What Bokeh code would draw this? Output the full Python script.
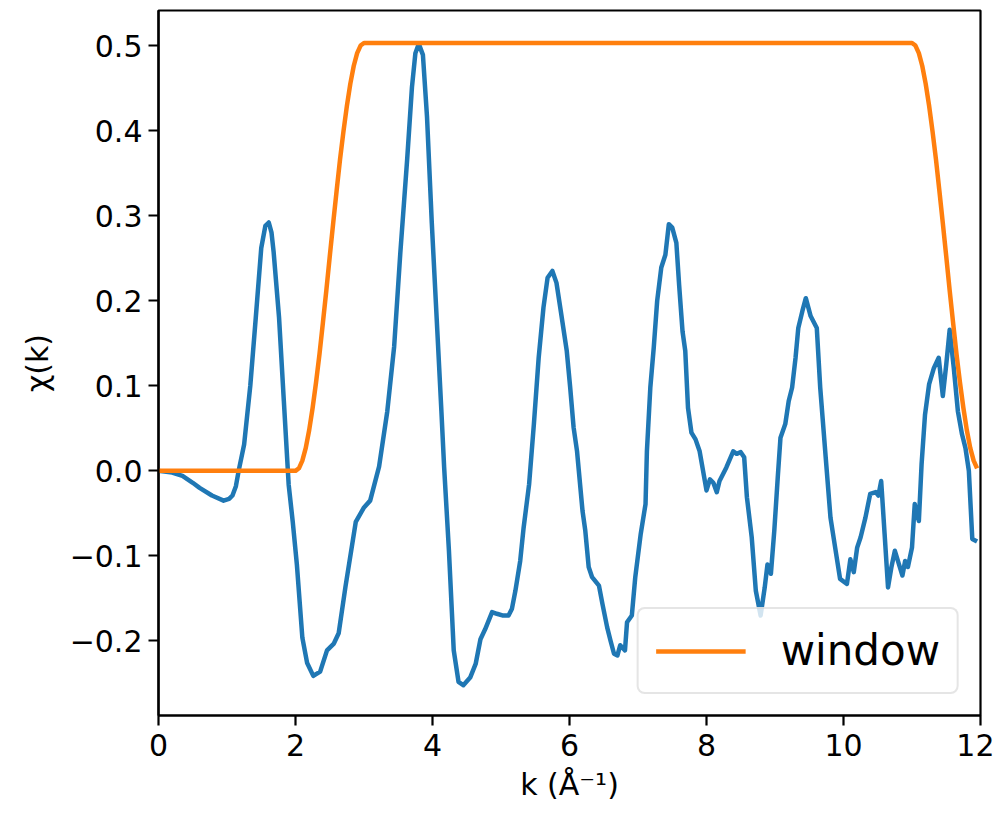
from bokeh.plotting import figure
from bokeh.models import Range1d, FixedTicker, Legend, LegendItem
from bokeh.embed import file_html
from bokeh.resources import INLINE

# ---- data ----
k_chi = [0.0, 0.2, 0.35, 0.5, 0.6, 0.78, 0.95, 1.03, 1.08, 1.13, 1.17, 1.25, 1.34, 1.42, 1.50,
         1.56, 1.61, 1.65, 1.68, 1.76, 1.83, 1.90, 1.96, 2.02, 2.10, 2.17, 2.26, 2.36, 2.46,
         2.56, 2.63, 2.73, 2.88, 3.0, 3.09, 3.22, 3.34, 3.44, 3.53, 3.63, 3.70, 3.75, 3.80,
         3.86, 3.92, 3.99, 4.07, 4.13, 4.17, 4.24, 4.31, 4.38, 4.45, 4.55, 4.63, 4.70, 4.77,
         4.87, 4.94, 5.02, 5.11, 5.16, 5.21, 5.28, 5.33, 5.41, 5.48, 5.55, 5.62, 5.68, 5.75,
         5.81, 5.88, 5.96, 6.01, 6.06, 6.11, 6.19, 6.23, 6.28, 6.33, 6.43, 6.48, 6.55, 6.60,
         6.65, 6.70, 6.74, 6.81, 6.84, 6.91, 6.96, 7.04, 7.11, 7.13, 7.18, 7.23, 7.28, 7.34,
         7.40, 7.45, 7.50, 7.56, 7.60, 7.65, 7.69, 7.73, 7.78, 7.84, 7.90, 7.95, 8.0, 8.05,
         8.10, 8.15, 8.19, 8.29, 8.39, 8.44, 8.50, 8.55, 8.59, 8.66, 8.72, 8.79, 8.85, 8.89,
         8.94, 8.99, 9.04, 9.08, 9.15, 9.20, 9.25, 9.30, 9.34, 9.40, 9.45, 9.52, 9.61, 9.66,
         9.74, 9.81, 9.87, 9.95, 10.05, 10.10, 10.15, 10.20, 10.25, 10.32, 10.39, 10.47,
         10.51, 10.55, 10.60, 10.65, 10.70, 10.75, 10.81, 10.86, 10.90, 10.94, 11.0, 11.04,
         11.10, 11.14, 11.19, 11.25, 11.32, 11.39, 11.45, 11.50, 11.55, 11.61, 11.67, 11.73,
         11.78, 11.83, 11.88, 11.95]
chi = [0.0, -0.002, -0.006, -0.014, -0.02, -0.029, -0.035, -0.033, -0.029, -0.018, 0.0, 0.031,
       0.10, 0.18, 0.262, 0.288, 0.292, 0.28, 0.258, 0.18, 0.082, -0.016, -0.06, -0.11, -0.196,
       -0.226, -0.241, -0.236, -0.211, -0.203, -0.191, -0.136, -0.060, -0.043, -0.035, 0.005,
       0.070, 0.146, 0.256, 0.366, 0.451, 0.491, 0.502, 0.489, 0.416, 0.291, 0.165, 0.07, 0.004,
       -0.094, -0.211, -0.248, -0.252, -0.243, -0.227, -0.198, -0.186, -0.166, -0.168, -0.170,
       -0.170, -0.162, -0.141, -0.106, -0.067, -0.016, 0.055, 0.133, 0.192, 0.227, 0.235, 0.221,
       0.184, 0.141, 0.098, 0.051, 0.023, -0.047, -0.070, -0.113, -0.125, -0.135, -0.156, -0.184,
       -0.200, -0.215, -0.217, -0.205, -0.211, -0.178, -0.170, -0.125, -0.074, -0.039, 0.023,
       0.098, 0.145, 0.200, 0.239, 0.254, 0.290, 0.286, 0.268, 0.219, 0.164, 0.141, 0.074, 0.045,
       0.037, 0.023, 0.0, -0.023, -0.010, -0.014, -0.025, -0.012, 0.004, 0.023, 0.020, 0.022,
       0.016, -0.031, -0.078, -0.141, -0.170, -0.137, -0.110, -0.121, -0.070, -0.008, 0.039,
       0.055, 0.082, 0.098, 0.133, 0.168, 0.188, 0.203, 0.182, 0.168, 0.098, 0.016, -0.055,
       -0.086, -0.127, -0.133, -0.104, -0.119, -0.090, -0.078, -0.055, -0.027, -0.025, -0.029,
       -0.012, -0.074, -0.137, -0.113, -0.094, -0.110, -0.123, -0.106, -0.113, -0.090, -0.039,
       -0.059, 0.008, 0.066, 0.102, 0.121, 0.133, 0.088, 0.125, 0.166, 0.121, 0.070, 0.043,
       0.027, 0.0, -0.080, -0.083]

k_win = [0.0, 2.0, 2.05, 2.1, 2.15, 2.2, 2.25, 2.3, 2.35, 2.4, 2.45, 2.5, 2.55, 2.6, 2.65,
         2.7, 2.75, 2.8, 2.85, 2.9, 2.95, 3.0,
         11.0, 11.05, 11.1, 11.15, 11.2, 11.25, 11.3, 11.35, 11.4, 11.45, 11.5, 11.55, 11.6,
         11.65, 11.7, 11.75, 11.8, 11.85, 11.9, 11.95]
win = [0.0, 0.0, 0.003, 0.012, 0.027, 0.048, 0.074, 0.104, 0.137, 0.174, 0.212, 0.252,
       0.291, 0.329, 0.366, 0.399, 0.429, 0.455, 0.476, 0.491, 0.500, 0.503,
       0.503, 0.500, 0.491, 0.476, 0.455, 0.429, 0.399, 0.366, 0.329, 0.291, 0.252, 0.212,
       0.174, 0.137, 0.104, 0.074, 0.048, 0.027, 0.012, 0.003]

y_ticks = [-0.2, -0.1, 0.0, 0.1, 0.2, 0.3, 0.4, 0.5]
y_tick_labels = ["\u22120.2", "\u22120.1", "0.0", "0.1", "0.2", "0.3", "0.4", "0.5"]
x_ticks = [0, 2, 4, 6, 8, 10, 12]

FONT = "DejaVu Sans"

p = figure(width=994, height=808, output_backend="svg", toolbar_location=None,
           x_range=Range1d(0, 12), y_range=Range1d(-0.2876, 0.5412),
           min_border_left=158, min_border_right=14, min_border_top=10, min_border_bottom=93)

p.xgrid.visible = False
p.ygrid.visible = False
p.outline_line_color = "black"
p.outline_line_width = 2.2
p.background_fill_color = "white"
p.border_fill_color = "white"

blue = p.line(k_chi, chi, line_color="#1f77b4", line_width=4.5, line_join="round")
orange = p.line(k_win, win, line_color="#ff7f0e", line_width=4.5, line_join="round")

for ax in (p.xaxis[0], p.yaxis[0]):
    ax.axis_line_width = 2.2
    ax.major_tick_line_width = 2.2
    ax.major_tick_out = 10
    ax.major_tick_in = 0
    ax.minor_tick_out = 0
    ax.minor_tick_in = 0
    ax.major_label_text_font = FONT
    ax.major_label_text_font_size = "30px"
    ax.major_label_text_color = "black"
    ax.axis_label_text_font = FONT
    ax.axis_label_text_font_size = "30px"
    ax.axis_label_text_font_style = "normal"
    ax.axis_label_text_color = "black"

p.xaxis[0].ticker = FixedTicker(ticks=x_ticks)
p.xaxis[0].major_label_standoff = 8
p.xaxis[0].axis_label = "k (\u00c5\u207b\u00b9)"
p.xaxis[0].axis_label_standoff = 8

p.yaxis[0].ticker = FixedTicker(ticks=y_ticks)
p.yaxis[0].major_label_overrides = {t: s for t, s in zip(y_ticks, y_tick_labels)}
p.yaxis[0].major_label_standoff = 6
p.yaxis[0].axis_label = "\u03c7(k)"
p.yaxis[0].axis_label_standoff = 12

legend = Legend(items=[LegendItem(label="window", renderers=[orange])],
                location="bottom_right", margin=21, padding=17,
                label_standoff=35, glyph_width=90, glyph_height=40,
                label_text_font=FONT, label_text_font_size="42px",
                label_text_color="black",
                border_line_color="#cccccc", border_line_width=2,
                background_fill_color="white", background_fill_alpha=0.8,
                spacing=0)
if "border_radius" in Legend.properties():
    legend.border_radius = 8
p.add_layout(legend)

open("out.html", "w").write(file_html(p, INLINE))
